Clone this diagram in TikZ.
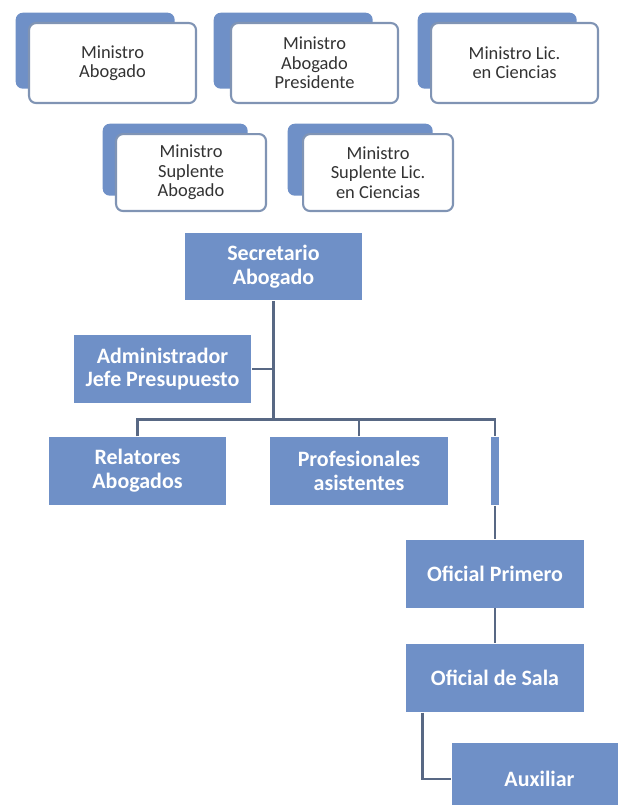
\documentclass[tikz,border=0pt]{standalone}
\usepackage{fontspec}
\setmainfont{Carlito}
\usetikzlibrary{positioning}
\definecolor{cajaazul}{RGB}{111,144,199}
\definecolor{trazo}{RGB}{88,104,132}
\definecolor{borde}{RGB}{128,148,180}

\begin{document}
\begin{tikzpicture}[x=0.02cm, y=-0.02cm, thick,
  ministro/.style = {rectangle, rounded corners=4pt, draw=borde, line width=1.2pt,
    fill=white, text=black!80, font=\fontsize{10.5}{11}\selectfont, align=center,
    minimum width=3.34cm, minimum height=1.6cm, anchor=north west},
  fondo/.style = {rectangle, rounded corners=4pt, fill=cajaazul,
    minimum width=3.18cm, minimum height=1.52cm, anchor=north west},
  cargo/.style = {rectangle, fill=cajaazul, text=white,
    font=\fontsize{12.5}{13.5}\selectfont\bfseries, align=center,
    minimum width=3.56cm, minimum height=1.36cm, inner sep=1pt},
  conector/.style = {draw=trazo, line width=1.6pt}]
  \useasboundingbox (0,0) rectangle (618,805);

  \node[fondo] (MAf) at (15,12) {};
  \node[ministro] (MA) at ([xshift=0.26cm, yshift=-0.2cm]MAf.north west) {Ministro\\Abogado};
  \node[fondo] (MPf) at (213,12) {};
  \node[ministro] (MP) at ([xshift=0.34cm, yshift=-0.2cm]MPf.north west) {Ministro\\Abogado\\Presidente};
  \node[fondo] (MCf) at (417,12) {};
  \node[ministro] (MC) at ([xshift=0.26cm, yshift=-0.2cm]MCf.north west) {Ministro Lic.\\en Ciencias};

  \node[fondo, minimum width=2.9cm, minimum height=1.44cm] (SAbf) at (102,123) {};
  \node[ministro, minimum width=3cm, minimum height=1.54cm] (SAb) at ([xshift=0.26cm, yshift=-0.2cm]SAbf.north west) {Ministro\\Suplente\\Abogado};
  \node[fondo, minimum width=2.9cm, minimum height=1.44cm] (SCif) at (287,123) {};
  \node[ministro, minimum width=3cm, minimum height=1.54cm] (SCi) at ([xshift=0.3cm, yshift=-0.2cm]SCif.north west) {Ministro\\Suplente Lic.\\en Ciencias};

  \node[cargo] (SA) at (273.5,266.5) {Secretario\\Abogado};
  \node[cargo] (AJ) at (162.5,369) {Administrador\\Jefe Presupuesto};
  \coordinate[below = 2.36cm of SA.south] (Barra);
  \node[cargo] (RA) at (137.5,471) {Relatores\\Abogados};
  \node[cargo] (PA) at (359,471) {Profesionales\\asistentes};
  \node[cargo, minimum width=0.16cm, inner sep=0pt] (Vacio) at (495,471) {};
  \node[cargo] (OP) at (495,573.5) {Oficial Primero};
  \node[cargo, below = 0.7cm of OP] (OS) {Oficial de Sala};
  \node[cargo, minimum width=3.5cm, minimum height=1.44cm] (AX) at (539.5,779) {Auxiliar};

  \draw[conector]
    (SA.south) -- (Barra)
    (AJ.east) -- (AJ.east -| Barra)
    (RA.north) |- (Barra) -| (Vacio.north)
    (PA.north) -- (PA.north |- Barra)
    (Vacio.south) -- (OP.north)
    (OP.south) -- (OS.north)
    ([xshift=0.34cm]OS.south west) |- (AX.west);
\end{tikzpicture}
\end{document}
